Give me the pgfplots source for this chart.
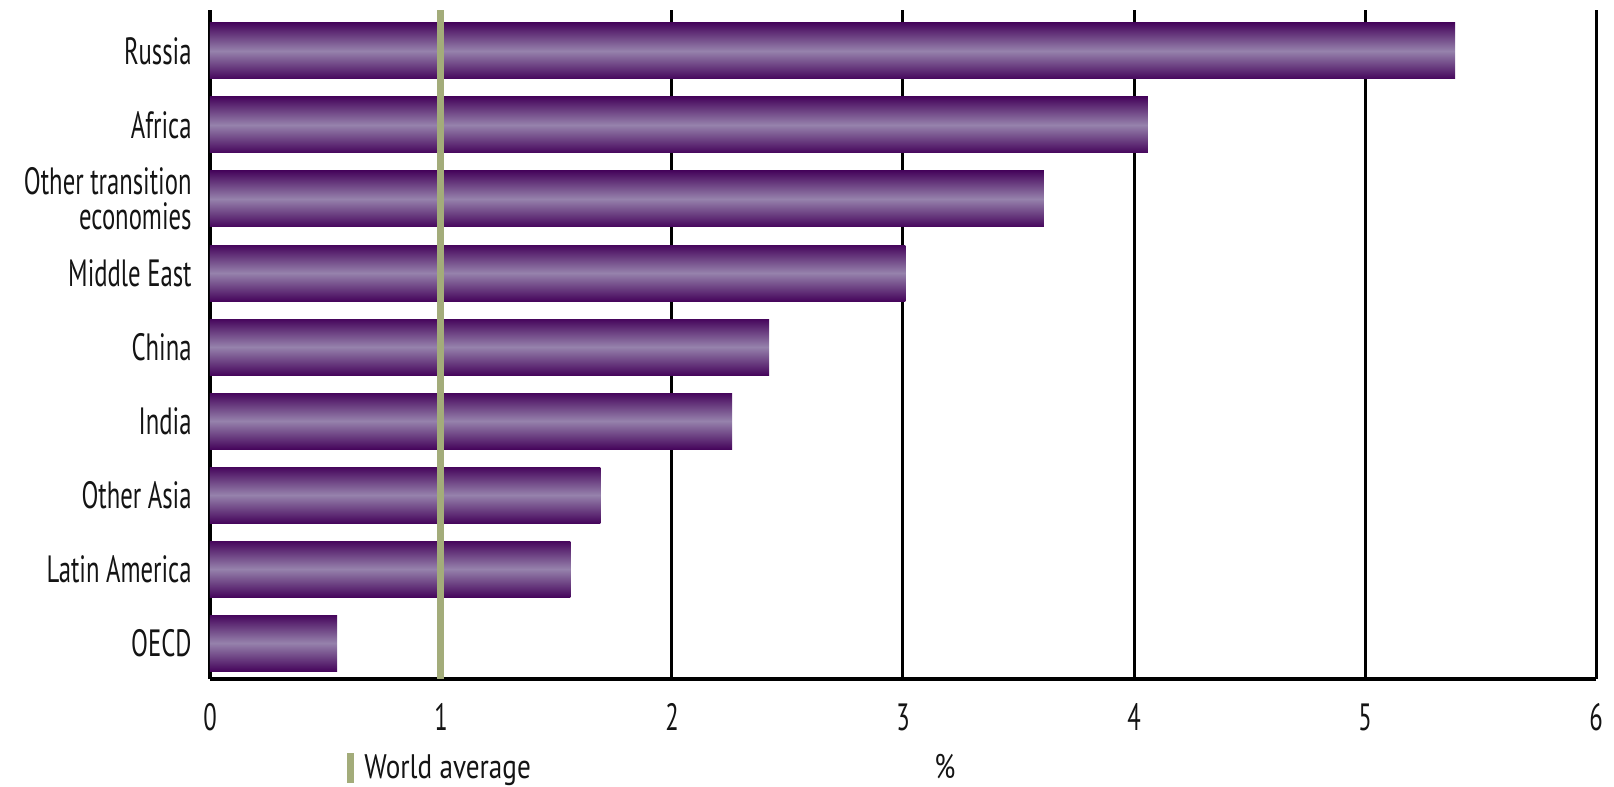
\documentclass[border=0pt]{standalone}
\usepackage{fontspec}
\setmainfont{PT Sans}[FakeStretch=0.65]
\newfontfamily\legfont{PT Sans}[FakeStretch=0.8]
\usepackage{pgfplots}
\pgfplotsset{compat=1.18}
\definecolor{bardark}{RGB}{70,6,92}
\definecolor{barlight}{RGB}{150,130,172}
\definecolor{wavg}{RGB}{163,172,122}
\definecolor{txt}{RGB}{20,20,20}
\pgfplotsset{mybar/.style={xbar, bar width=28pt, bar shift=0pt, draw=none,
  top color=bardark, bottom color=bardark, middle color=barlight, forget plot}}
\begin{document}
\begin{tikzpicture}
\begin{axis}[
  scale only axis,
  width=693pt, height=334.5pt,
  at={(0,0)}, anchor=south west,
  xmin=0, xmax=6, ymin=-0.486, ymax=8.554,
  axis x line*=bottom, axis y line*=left,
  axis line style={line width=2pt, black},
  xmajorgrids, major grid style={black, line width=1.5pt},
  tick style={draw=none}, major tick length=0pt,
  xtick={0,1,2,3,4,5,6},
  ytick={0,1,2,3,4,5,6,7,8},
  yticklabels={OECD, Latin America, Other Asia, India, China, Middle East, {Other transition\\economies}, Africa, Russia},
  /pgf/number format/assume math mode=true,
  xticklabel style={font=\fontsize{19pt}{20pt}\selectfont, text=txt, anchor=center, inner sep=0pt, yshift=-19pt},
  yticklabel style={font=\fontsize{19pt}{17.5pt}\selectfont, text=txt, align=right, anchor=east, inner sep=0pt, xshift=-9pt},
  xlabel={\%},
  xlabel style={at={(axis description cs:0.5303,0)}, anchor=center, yshift=-44pt, font=\legfont\fontsize{17pt}{18pt}\selectfont, text=txt},
  legend style={at={(axis description cs:0,0)}, anchor=west, xshift=68.75pt, yshift=-44.5pt,
    draw=none, fill=none, inner sep=0pt, outer sep=0pt, column sep=5pt,
    font=\legfont\fontsize{17pt}{18pt}\selectfont, text=txt, nodes={inner sep=0pt}},
  clip=false,
]
\addplot[mybar] coordinates {(0.55,0)};
\addplot[mybar] coordinates {(1.56,1)};
\addplot[mybar] coordinates {(1.69,2)};
\addplot[mybar] coordinates {(2.26,3)};
\addplot[mybar] coordinates {(2.42,4)};
\addplot[mybar] coordinates {(3.01,5)};
\addplot[mybar] coordinates {(3.61,6)};
\addplot[mybar] coordinates {(4.06,7)};
\addplot[mybar] coordinates {(5.39,8)};
\addplot[draw=wavg, line width=3.5pt,
  legend image code/.code={\draw[draw=wavg, line width=3.5pt] (1.75pt,-7.5pt) -- (1.75pt,7.5pt);}]
  coordinates {(1,-0.486) (1,8.554)};
\addlegendentry{World average}
\end{axis}
\pgfresetboundingbox
\path[use as bounding box] (-105pt,-54pt) rectangle (702pt,339.5pt);
\end{tikzpicture}
\end{document}
